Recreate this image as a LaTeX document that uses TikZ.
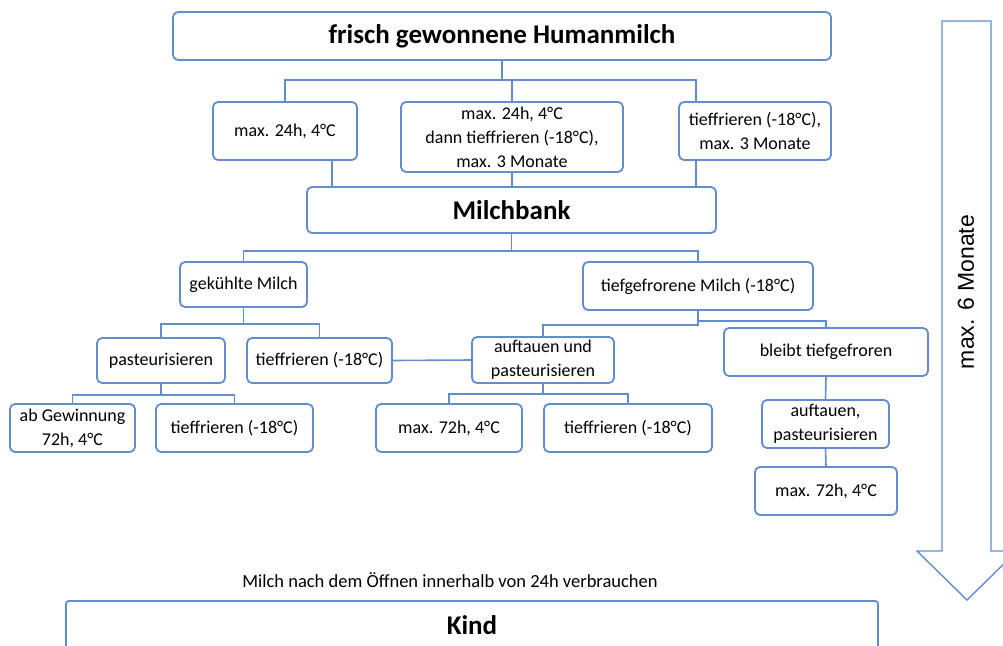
\documentclass[tikz,border=0pt]{standalone}
\usepackage{fontspec}
\setmainfont{Carlito}
\newfontfamily\arialfont{Liberation Sans}
\usetikzlibrary{calc}
\definecolor{lineblue}{RGB}{98,142,208}
\begin{document}
\begin{tikzpicture}[x=1pt,y=-1pt,
  box/.style={draw=lineblue, line width=1.8pt, rounded corners=5pt, fill=white, align=center, inner sep=0pt, font=\fontsize{18}{24}\selectfont},
  bigbox/.style={box, font=\fontsize{27}{32}\selectfont\bfseries},
  conn/.style={draw=lineblue, line width=1.6pt},
  plain/.style={font=\fontsize{18.5}{20}\selectfont, inner sep=0pt}]
\useasboundingbox (0,0) rectangle (1003,645);
\clip (0,0) rectangle (1003,645);

% level 0
\node[bigbox, minimum width=658pt, minimum height=48pt] (top) at (502,36) {frisch gewonnene Humanmilch};
% level 1
\node[box, minimum width=144pt, minimum height=58pt] (b1) at (285,131) {max. 24h, 4°C};
\node[box, minimum width=222pt, minimum height=70pt] (b2) at (512,137) {max. 24h, 4°C\\dann tieffrieren (-18°C),\\max. 3 Monate};
\node[box, minimum width=152pt, minimum height=58pt] (b3) at (755,131) {tieffrieren (-18°C),\\max. 3 Monate};
% level 2
\node[bigbox, minimum width=409pt, minimum height=46pt] (milch) at (511.5,210) {Milchbank};
% level 3
\node[box, minimum width=127pt, minimum height=45pt] (gek) at (243.5,284.5) {gekühlte Milch};
\node[box, minimum width=230pt, minimum height=48pt] (tief) at (698,286) {tiefgefrorene Milch (-18°C)};
% level 4
\node[box, minimum width=128pt, minimum height=45pt] (past) at (161,360.5) {pasteurisieren};
\node[box, minimum width=145pt, minimum height=45pt] (tf1) at (319.5,360.5) {tieffrieren (-18°C)};
\node[box, minimum width=142pt, minimum height=46pt] (auft) at (543,360) {auftauen und\\pasteurisieren};
\node[box, minimum width=204pt, minimum height=48pt] (bleibt) at (826,352) {bleibt tiefgefroren};
% level 5
\node[box, minimum width=125pt, minimum height=48pt] (abg) at (72.5,428) {ab Gewinnung\\72h, 4°C};
\node[box, minimum width=157pt, minimum height=48pt] (tf2) at (234.5,428) {tieffrieren (-18°C)};
\node[box, minimum width=146pt, minimum height=48pt] (m72a) at (449,428) {max. 72h, 4°C};
\node[box, minimum width=168pt, minimum height=48pt] (tf3) at (628,428) {tieffrieren (-18°C)};
\node[box, minimum width=127pt, minimum height=48pt] (auft2) at (825.5,424) {auftauen,\\pasteurisieren};
\node[box, minimum width=142pt, minimum height=48pt] (m72b) at (826,491) {max. 72h, 4°C};

% bottom label and child box
\node[plain] (hint) at (450,580) {Milch nach dem Öffnen innerhalb von 24h verbrauchen};
\node[bigbox, rounded corners=3pt, anchor=north, minimum width=812pt, text height=34pt, text depth=60pt] (kind) at (472,600) {Kind};

% big arrow
\draw[draw=lineblue, line width=1.4pt, fill=white] (942,21) -- (991,21) -- (991,551) -- (1017,551) -- (967,600) -- (917,551) -- (942,551) -- cycle;
\node[rotate=90, inner sep=0pt, font=\arialfont\fontsize{23}{23}\selectfont] (arrowtext) at (966,292) {max. 6 Monate};

% connectors
\coordinate (j1) at ($(top.south)+(0,19)$);
\coordinate (b3in) at ($(b3.north west)+(18,0)$);
\coordinate (b3out) at ($(b3.south west)+(18,0)$);
\coordinate (b1out) at ($(b1.south west)+(120,0)$);
\draw[conn] (top.south) -- (j1);
\draw[conn] (b1.north) |- (j1) -| (b3in);
\draw[conn] (b2.north) -- (b2.north |- j1);
\draw[conn] (b1out) -- (b1out |- milch.north);
\draw[conn] (b2.south) -- (b2.south |- milch.north);
\draw[conn] (b3out) -- (b3out |- milch.north);

\draw[conn] (milch.south) -- ++(0,17) coordinate (j2);
\draw[conn] (gek.north) |- (j2) -| (tief.north);

\draw[conn] (gek.south) -- ++(0,16) coordinate (j3);
\draw[conn] (past.north) |- (j3) -| (tf1.north);
\draw[conn] (tf1.east) -- (auft.west);

\draw[conn] (tief.south) -- ++(0,14) -| (auft.north);
\draw[conn] ($(tief.south)+(0,10)$) -| (bleibt.north);

\draw[conn] (past.south) -- ++(0,11) coordinate (j4);
\draw[conn] (abg.north) |- (j4) -| (tf2.north);

\draw[conn] (auft.south) -- ++(0,10) coordinate (j5);
\draw[conn] (m72a.north) |- (j5) -| (tf3.north);

\draw[conn] (bleibt.south) -- (auft2.north);
\draw[conn] (auft2.south) -- (m72b.north);
\end{tikzpicture}
\end{document}
